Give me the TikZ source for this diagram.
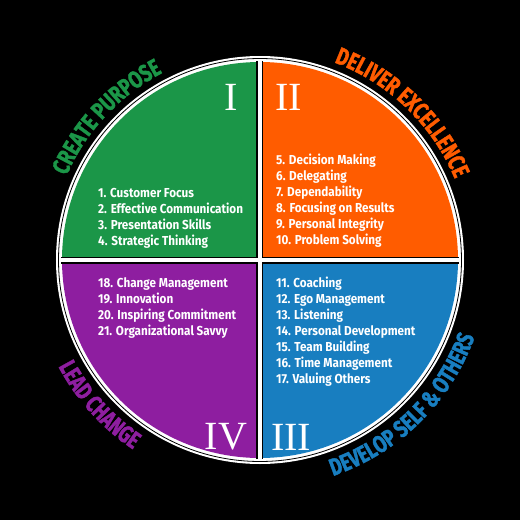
\documentclass[tikz,border=0pt]{standalone}
\usepackage{fontspec}
\setmainfont{Fira Sans}
\newfontfamily\listfont[FakeStretch=0.9]{Fira Sans}
\newfontfamily\arcfont[FakeStretch=0.76,FakeBold=1.6]{Fira Sans}
\newfontfamily\numfont{Liberation Serif}
\usetikzlibrary{decorations.text}
\definecolor{purposegreen}{RGB}{27,150,72}
\definecolor{excelorange}{RGB}{255,92,0}
\definecolor{developblue}{RGB}{24,126,192}
\definecolor{changepurple}{RGB}{142,30,160}
\newcommand\arcsize{\arcfont\bfseries\fontsize{24}{24}\selectfont}

\begin{document}
\begin{tikzpicture}[x=1pt,y=1pt,
	item/.style={anchor=base west,inner sep=0pt,text=white,
		font=\listfont\bfseries\fontsize{13}{13}\selectfont},
	numeral/.style={inner sep=0pt,text=white,font=\numfont\fontsize{40}{40}\selectfont},
	arclabel/.style 2 args={decoration={text along path,text align=center,
		text color=#2,text={#1}},decorate}]
	% background and frame
	\fill[black] (-260,-260) rectangle (260,260);
	\useasboundingbox (-260,-260) rectangle (260,260);
	\fill[white] (0,0) circle (204pt);
	\draw[black,line width=0.8pt] (0,0) circle (201.5pt);
	
	% quadrants
	\fill[purposegreen] (0,0) -- (180:198pt) arc[start angle=180,end angle=90,radius=198pt] -- cycle;
	\fill[excelorange]  (0,0) -- (90:198pt)  arc[start angle=90,end angle=0,radius=198pt] -- cycle;
	\fill[developblue]  (0,0) -- (0:198pt)   arc[start angle=0,end angle=-90,radius=198pt] -- cycle;
	\fill[changepurple] (0,0) -- (270:198pt) arc[start angle=270,end angle=180,radius=198pt] -- cycle;
	\draw[black,line width=7pt] (-199,0) -- (199,0) (0,-199) -- (0,199);
	\draw[white,line width=4pt] (-200,0) -- (200,0) (0,-200) -- (0,200);
	
	% numerals
	\node[numeral] (n1) at (-29,163)  {I};
	\node[numeral] (n2) at (29,163)   {II};
	\node[numeral] (n3) at (31,-177)  {III};
	\node[numeral] (n4) at (-34,-177) {IV};
	
	% competency lists
	\foreach \t [count=\i] in {1. Customer Focus,2. Effective Communication,
		3. Presentation Skills,4. Strategic Thinking}
		\node[item] (g\i) at (-162,{63-16*(\i-1)}) {\t};
	\foreach \t [count=\i] in {5. Decision Making,6. Delegating,7. Dependability,
		8. Focusing on Results,9. Personal Integrity,10. Problem Solving}
		\node[item] (o\i) at (16,{96-16*(\i-1)}) {\t};
	\foreach \t [count=\i] in {18. Change Management,19. Innovation,
		20. Inspiring Commitment,21. Organizational Savvy}
		\node[item] (p\i) at (-162,{-27-16*(\i-1)}) {\t};
	\foreach \t [count=\i] in {11. Coaching,12. Ego Management,13. Listening,
		14. Personal Development,15. Team Building,16. Time Management,17. Valuing Others}
		\node[item] (b\i) at (16,{-27-16*(\i-1)}) {\t};
	
	% curved titles
	{\arcsize
	\path[arclabel={CREATE PURPOSE}{purposegreen}]
		(175:211pt) arc[start angle=175,end angle=99,radius=211pt];
	\path[arclabel={DELIVER EXCELLENCE}{excelorange}]
		(88:211pt) arc[start angle=88,end angle=4,radius=211pt];
	\path[arclabel={DEVELOP SELF {\&} OTHERS}{developblue}]
		(-95:228pt) arc[start angle=-95,end angle=4,radius=228pt];
	\path[arclabel={LEAD CHANGE}{changepurple}]
		(185:228pt) arc[start angle=185,end angle=259,radius=228pt];
	}
\end{tikzpicture}
\end{document}
